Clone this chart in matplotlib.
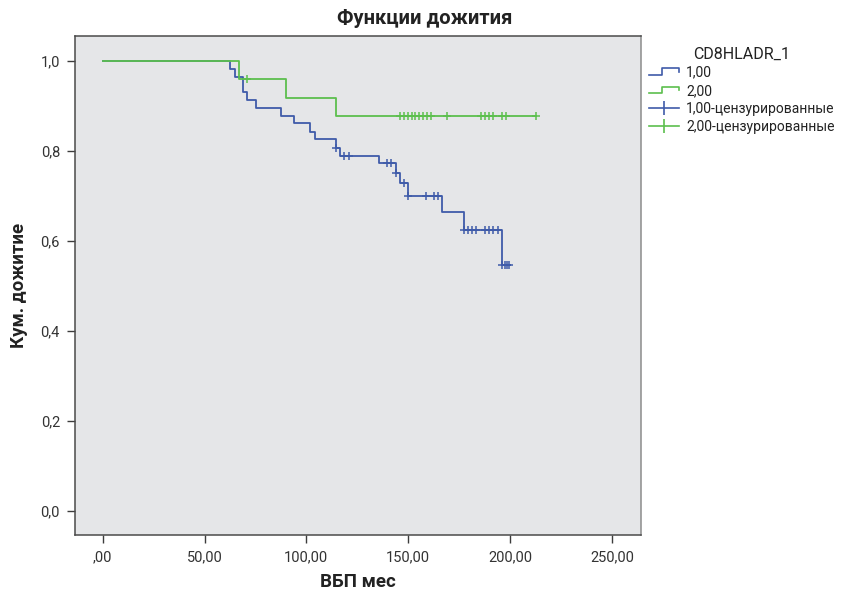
import numpy as np
import matplotlib.pyplot as plt
from matplotlib.lines import Line2D
from matplotlib.legend_handler import HandlerBase

plt.rcParams['font.family'] = ['Roboto', 'DejaVu Sans']

###############################################################################
# Data (time in months, cumulative survival)
blue_event_t = [62.6, 64.8, 68.7, 70.8, 75.1, 87.5, 94.1, 101.9, 104.2, 114.5,
                116.6, 135.6, 143.8, 146.0, 149.9, 166.8, 177.2, 196.0]
blue_event_s = [0.983, 0.965, 0.930, 0.913, 0.895, 0.878, 0.861, 0.843, 0.826,
                0.807, 0.789, 0.772, 0.750, 0.728, 0.700, 0.663, 0.624, 0.546]
blue_end = 200.0
blue_cens_t = [114.5, 118.6, 120.9, 139.6, 141.5, 143.8, 147.8, 149.9, 158.5,
               162.6, 164.6, 177.2, 179.2, 181.3, 183.4, 187.7, 189.6, 191.8,
               193.9, 196.0, 197.3, 198.3, 199.4]

green_event_t = [66.9, 90.0, 114.5]
green_event_s = [0.959, 0.918, 0.877]
green_end = 212.7
green_cens_t = [70.8, 146.0, 147.9, 149.9, 151.7, 153.5, 155.3, 157.2, 159.2,
                161.0, 169.0, 185.6, 187.5, 189.5, 191.6, 196.0, 197.8, 212.7]

group_labels = ['1,00', '2,00', '1,00-цензурированные', '2,00-цензурированные']
xticks = [0, 50, 100, 150, 200, 250]
xticklabels = [',00', '50,00', '100,00', '150,00', '200,00', '250,00']
yticks = [0.0, 0.2, 0.4, 0.6, 0.8, 1.0]
yticklabels = ['0,0', '0,2', '0,4', '0,6', '0,8', '1,0']

blue = '#3f5ba9'
green = '#5cbf4e'


def survival_at(t, ev_t, ev_s):
    # value of the step function right after time t
    idx = np.searchsorted(ev_t, t, side='right')
    s = np.r_[1.0, ev_s]
    return s[idx]


class StepHandler(HandlerBase):
    # draws the small step icon used in the legend
    def create_artists(self, legend, orig_handle, xdescent, ydescent,
                       width, height, fontsize, trans):
        x0, y0 = -xdescent, -ydescent
        xs = [x0, x0 + 0.45 * width, x0 + 0.45 * width, x0 + width, x0 + width]
        ys = [y0 + 0.15 * height, y0 + 0.15 * height, y0 + 0.85 * height,
              y0 + 0.85 * height, y0 + 0.45 * height]
        line = Line2D(xs, ys, color=orig_handle.get_color(), lw=1.2,
                      transform=trans)
        return [line]


###############################################################################
fig = plt.figure(figsize=(8.42, 5.90), dpi=100)
ax = fig.add_axes([0.0894, 0.0932, 0.6719, 0.8463])
ax.set_facecolor('#e5e6e8')

for ev_t, ev_s, end, cens_t, col in [
        (blue_event_t, blue_event_s, blue_end, blue_cens_t, blue),
        (green_event_t, green_event_s, green_end, green_cens_t, green)]:
    ax.step(np.r_[0.0, ev_t, end], np.r_[1.0, ev_s, ev_s[-1]],
            where='post', color=col, lw=1.3)
    ax.plot(cens_t, survival_at(cens_t, ev_t, ev_s), ls='none', marker='+',
            markersize=6, markeredgewidth=1.1, color=col)

ax.set_xlim(-13.45, 264.3)
ax.set_ylim(-0.054, 1.056)
ax.set_xticks(xticks)
ax.set_xticklabels(xticklabels)
ax.set_yticks(yticks)
ax.set_yticklabels(yticklabels)
ax.tick_params(direction='out', length=6, width=1, color='#3c3c3c',
               labelsize=10.5, labelcolor='#333333', pad=5)
for side in ['left', 'bottom', 'top']:
    ax.spines[side].set_color('#4a4a4a')
    ax.spines[side].set_linewidth(1.1)
ax.spines['right'].set_color('#8c8c8c')
ax.spines['right'].set_linewidth(1.1)

ax.set_xlabel('ВБП мес', fontsize=13.5, fontweight='bold', color='#222222',
              labelpad=6)
ax.set_ylabel('Кум. дожитие', fontsize=13.5, fontweight='bold', color='#222222',
              labelpad=9)
fig.text(425 / 842, 1 - 19 / 590, 'Функции дожития', ha='center', va='center',
         fontsize=14.5, fontweight='bold', color='#222222')

# Legend
h_blue = Line2D([], [], color=blue)
h_green = Line2D([], [], color=green)
h_bc = Line2D([], [], color=blue, lw=1.2, marker='|', markersize=10,
              markeredgewidth=1.2)
h_gc = Line2D([], [], color=green, lw=1.2, marker='|', markersize=10,
              markeredgewidth=1.2)
leg = fig.legend([h_blue, h_green, h_bc, h_gc], group_labels,
                 title='CD8HLADR_1', loc='upper left',
                 bbox_to_anchor=(636 / 842, 1 - 34 / 590),
                 frameon=False, fontsize=10, title_fontsize=11.5,
                 handlelength=2.2, handletextpad=0.5, labelspacing=0.3,
                 handler_map={h_blue: StepHandler(), h_green: StepHandler()})
leg.get_title().set_color('#222222')
for t in leg.get_texts():
    t.set_color('#222222')

fig.savefig('out.png', dpi=100)
